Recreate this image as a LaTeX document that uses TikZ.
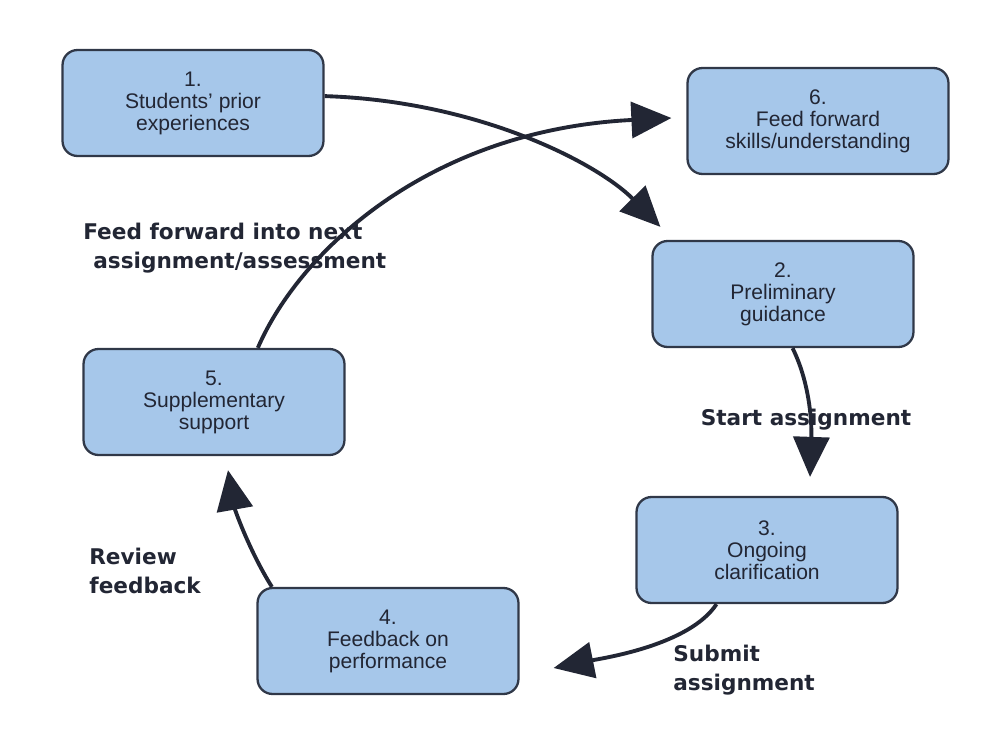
\documentclass[tikz,border=0pt]{standalone}
\usepackage{fontspec}
\setmainfont{Liberation Sans}
\newfontfamily\cuefont{DejaVu Sans}
\usepackage{tikz}
\usetikzlibrary{arrows.meta,calc}
\usepackage{xcolor}
\definecolor{boxblue}{RGB}{166,199,234}
\definecolor{boxline}{RGB}{48,56,72}
\definecolor{inkdark}{RGB}{34,38,52}

\begin{document}
\begin{tikzpicture}[x=0.02cm,y=-0.02cm,->,>={Triangle[length=0.8cm,width=0.72cm]}]
  \tikzstyle{stage}=[rectangle,rounded corners=0.3cm,draw=boxline,line width=1.3pt,fill=boxblue,
                     minimum width=5.22cm,minimum height=2.12cm,align=center,text=inkdark,
                     font=\fontsize{12}{12.5}\selectfont]
  \tikzstyle{cue}=[inner sep=0pt,align=center,text=inkdark,
                   font=\cuefont\bfseries\fontsize{12.3}{16.5}\selectfont]
  \tikzstyle{flow}=[line width=2.2pt,draw=inkdark]

  \useasboundingbox (0,0) rectangle (992,751);

  \node[stage] (A) at (193,103) {1.\\Students{\char"0027} prior\\experiences};
  \node[stage] (F) at (818,121) {6.\\Feed forward\\skills/understanding};
  \node[stage] (B) at (783,294) {2.\\Preliminary\\guidance};
  \node[stage] (E) at (214,402) {5.\\Supplementary\\support};
  \node[stage] (C) at (767,550) {3.\\Ongoing\\clarification};
  \node[stage] (D) at (388,641) {4.\\Feedback on\\performance};

  \node[cue,anchor=west,align=left] (next) at (83,248) {Feed forward into next\\\hspace{0.2cm}assignment/assessment};
  \node[cue] (start) at (806,420) {Start assignment};
  \node[cue,anchor=west,align=left] (submit) at (673,670) {Submit\\assignment};
  \node[cue,anchor=west,align=left] (review) at (89,571) {Review\\feedback};

  % the cycle
  \draw[flow] (A.3) .. controls +(155,5) and +(-62,-63) .. ($(B.north west)+(9,-13)$);
  \draw[flow] (B.-80) .. controls +(16,32) and +(2,-58) .. ($(C.north)+(43,-19)$);
  \draw[flow] (C.-133) .. controls +(-27,41) and +(50,-10) .. ($(D.east)+(34,27)$);
  \draw[flow] (D.155) .. controls +(-22,-35) and +(7,40) .. ($(E.south)+(14,14)$);
  \draw[flow] (E.51) .. controls +(42,-97) and +(-242,12) .. ($(F.west)+(-15,-3)$);
\end{tikzpicture}
\end{document}
